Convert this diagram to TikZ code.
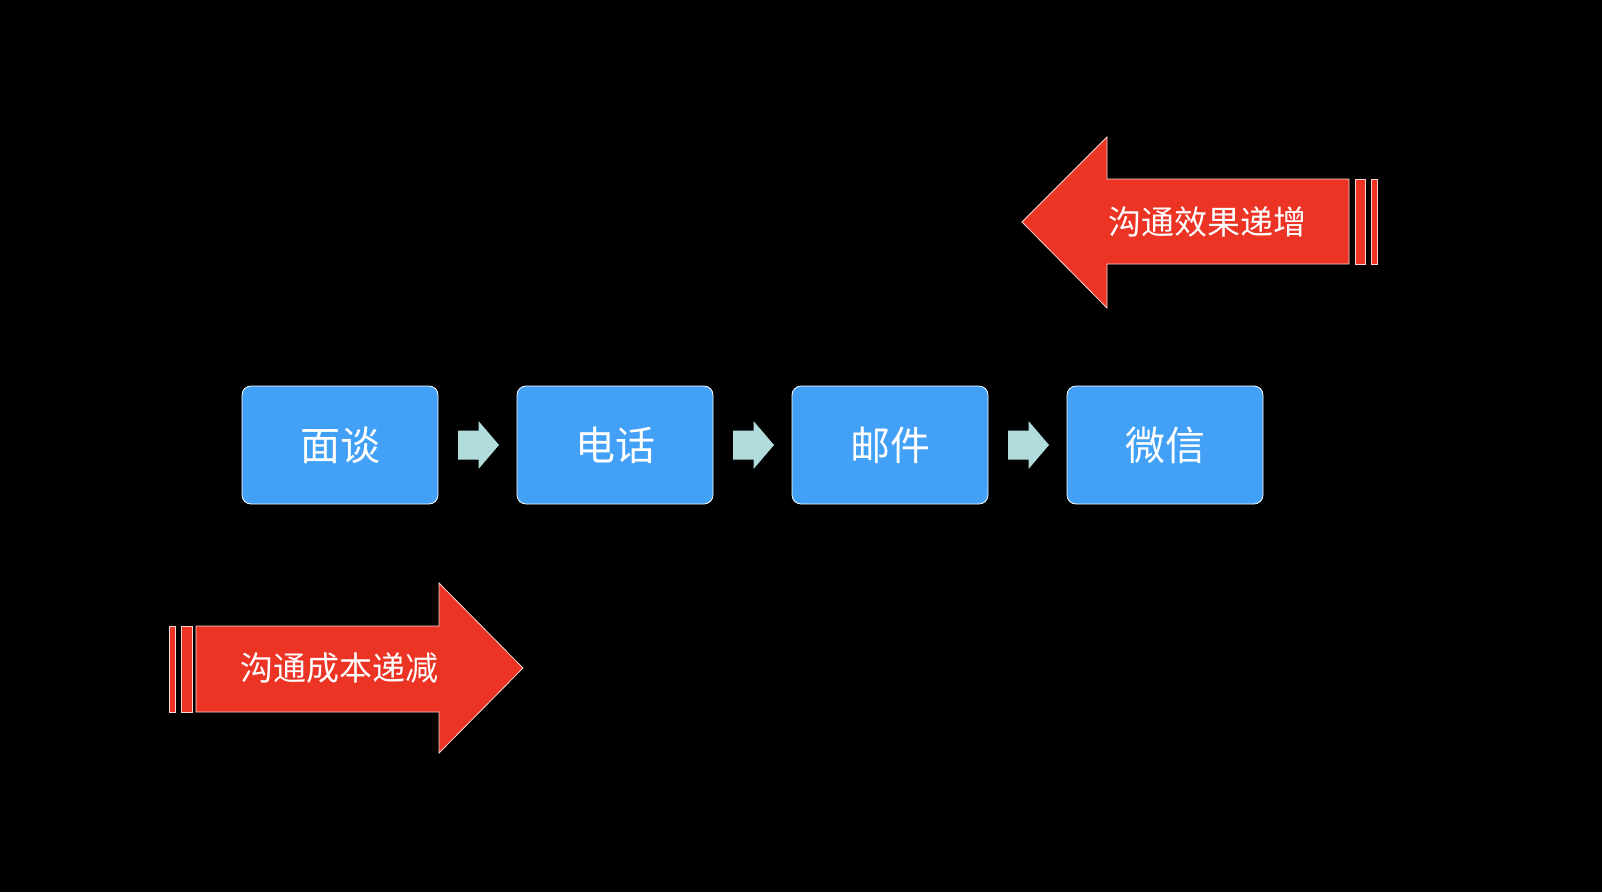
\documentclass[tikz,border=0pt]{standalone}
\usepackage{fontspec}
\newfontfamily\cjk{Noto Sans CJK SC}
\definecolor{boxblue}{HTML}{42A1F7}
\definecolor{arrred}{HTML}{EC3425}
\definecolor{smallarr}{HTML}{B2DCDC}
\begin{document}
\begin{tikzpicture}[x=1pt,y=-1pt,
  stagebox/.style={draw=white,line width=0.8pt,fill=boxblue,rounded corners=9pt,minimum width=196pt,minimum height=118pt,inner sep=0pt,text=white,font=\cjk\fontsize{40}{48}\selectfont},
  bigarrow/.style={draw=white!80!arrred,line width=0.8pt,fill=arrred},
  arrlabel/.style={text=white,font=\cjk\fontsize{33}{40}\selectfont,inner sep=0pt},
  smallarrow/.style={fill=smallarr}]
\fill[black] (0,0) rectangle (1602,892);
\useasboundingbox (0,0) rectangle (1602,892);
% boxes
\node[stagebox] (b1) at (340,445) {面谈};
\node[stagebox] (b2) at (615,445) {电话};
\node[stagebox] (b3) at (890,445) {邮件};
\node[stagebox] (b4) at (1165,445) {微信};
% small arrows between boxes
\foreach \a/\b in {b1/b2,b2/b3,b3/b4}{
  \path (\a.east) -- (\b.west) coordinate[pos=0.5] (m);
  \fill[smallarrow] ([xshift=-19.5pt,yshift=-14.5pt]m) -- ([xshift=1pt,yshift=-14.5pt]m) -- ([xshift=1pt,yshift=-24pt]m) -- ([xshift=21.5pt]m) -- ([xshift=1pt,yshift=24pt]m) -- ([xshift=1pt,yshift=14.5pt]m) -- ([xshift=-19.5pt,yshift=14.5pt]m) -- cycle;
}
% top arrow (left pointing)
\draw[bigarrow] (1022,222) -- (1107,137) -- (1107,179) -- (1349,179) -- (1349,264) -- (1107,264) -- (1107,308) -- cycle;
\draw[bigarrow] (1355,179) rectangle (1365,264);
\draw[bigarrow] (1371,179) rectangle (1377,264);
\node[arrlabel] (t1) at (1207,222) {沟通效果递增};
% bottom arrow (right pointing)
\draw[bigarrow] (523,668) -- (439,583) -- (439,626) -- (196,626) -- (196,712) -- (439,712) -- (439,753) -- cycle;
\draw[bigarrow] (169,626) rectangle (175,712);
\draw[bigarrow] (181,626) rectangle (192,712);
\node[arrlabel] (t2) at (339,668) {沟通成本递减};
\end{tikzpicture}
\end{document}
